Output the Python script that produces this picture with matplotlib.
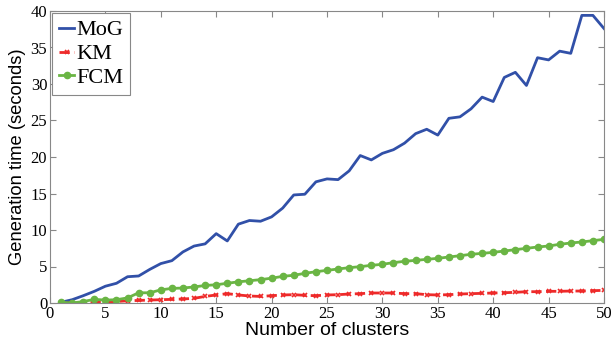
import numpy as np
import matplotlib.pyplot as plt

# Anzahl Cluster
clusters = np.arange(1, 51)

mog = [0.1, 0.45, 1.0, 1.6, 2.3, 2.7, 3.6, 3.7, 4.6, 5.4,
       5.8, 7.0, 7.8, 8.1, 9.5, 8.5, 10.8, 11.3, 11.2, 11.8,
       13.0, 14.8, 14.9, 16.6, 17.0, 16.9, 18.1, 20.2, 19.6, 20.5,
       21.0, 21.9, 23.2, 23.8, 23.0, 25.3, 25.5, 26.6, 28.2, 27.6,
       30.9, 31.6, 29.8, 33.6, 33.3, 34.5, 34.2, 39.4, 39.4, 37.6]

km = [0.0, 0.0, 0.05, 0.1, 0.1, 0.2, 0.3, 0.35, 0.4, 0.45,
      0.5, 0.55, 0.64, 0.9, 1.1, 1.28, 1.1, 0.96, 0.9, 1.0,
      1.1, 1.14, 1.05, 1.0, 1.1, 1.14, 1.23, 1.28, 1.37, 1.37,
      1.37, 1.28, 1.28, 1.14, 1.1, 1.14, 1.23, 1.28, 1.32, 1.37,
      1.41, 1.46, 1.55, 1.55, 1.6, 1.6, 1.64, 1.64, 1.69, 1.73]

fcm = [0.1, 0.0, 0.2, 0.5, 0.4, 0.45, 0.7, 1.4, 1.4, 1.8,
       2.0, 2.05, 2.2, 2.4, 2.5, 2.7, 2.9, 3.05, 3.2, 3.4,
       3.65, 3.8, 4.06, 4.29, 4.47, 4.66, 4.84, 4.98, 5.16, 5.30,
       5.53, 5.71, 5.84, 5.98, 6.12, 6.30, 6.48, 6.67, 6.80, 6.94,
       7.12, 7.31, 7.49, 7.67, 7.81, 8.04, 8.22, 8.36, 8.54, 8.72]

serif = ['Liberation Serif', 'DejaVu Serif']
sans = ['Liberation Sans', 'DejaVu Sans']

fig = plt.figure(figsize=(6.12, 3.42), dpi=100)
ax = fig.add_axes([50 / 612, 39 / 342, 554 / 612, 292 / 342])

ax.plot(clusters, mog, '-', color='#3150a8', lw=2, label='MoG')
ax.plot(clusters, km, '--', color='#ee2a2a', lw=2, marker='x', ms=3, mew=1.2, label='KM')
ax.plot(clusters, fcm, '-', color='#6ab544', lw=2, marker='o', ms=4.5, label='FCM')

ax.set_xlim(0, 50)
ax.set_ylim(0, 40)
ax.set_xticks(np.arange(0, 51, 5))
ax.set_yticks(np.arange(0, 41, 5))
ax.tick_params(direction='in', top=True, right=True, length=4, color='#888888', pad=2)
for lbl in ax.get_xticklabels() + ax.get_yticklabels():
    lbl.set_family(serif)
    lbl.set_fontsize(12)
for s in ax.spines.values():
    s.set_color('#888888')

ax.set_xlabel('Number of clusters', family=sans, fontsize=14, labelpad=0)
ax.set_ylabel('Generation time (seconds)', family=sans, fontsize=13.2, labelpad=3)

leg = ax.legend(loc='upper left', prop={'family': serif, 'size': 16}, handlelength=0.7,
                handletextpad=0.1, borderpad=0.3, labelspacing=0.15, borderaxespad=0.1,
                fancybox=False, framealpha=1)
leg.get_frame().set_edgecolor('#888888')
leg.get_frame().set_linewidth(0.8)

fig.savefig('out.png', dpi=100)
